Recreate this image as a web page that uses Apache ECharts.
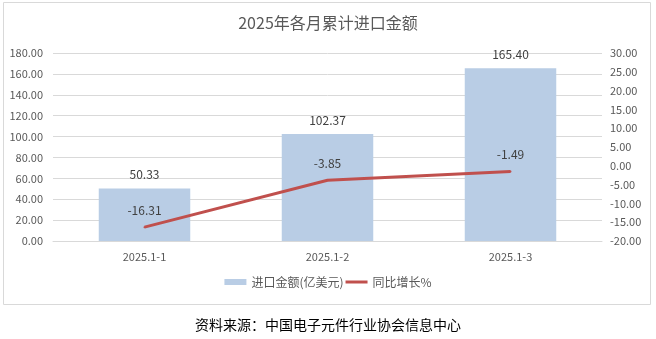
<!DOCTYPE html>
<html><head><meta charset="utf-8">
<script src="https://cdn.jsdelivr.net/npm/echarts@6/dist/echarts.min.js"></script>
<style>html,body{margin:0;padding:0;background:#fff}#c{width:656px;height:339px}</style>
</head><body><div id="c"></div>
<script>
const categories = ['2025.1-1', '2025.1-2', '2025.1-3'];
const importValues = [50.33, 102.37, 165.40];
const yoyGrowth = [-16.31, -3.85, -1.49];
const seriesNames = ['进口金额(亿美元)', '同比增长%'];
const titleText = '2025年各月累计进口金额';
const sourceText = '资料来源：中国电子元件行业协会信息中心';

const font = '"Noto Sans CJK SC", "Noto Sans", sans-serif';
const chart = echarts.init(document.getElementById('c'));
chart.setOption({
  animation: false,
  textStyle: { fontFamily: font },
  title: {
    text: titleText, left: 'center', top: 10,
    textStyle: { fontSize: 16, fontWeight: 'normal', color: '#595959', fontFamily: font }
  },
  graphic: [
    { type: 'rect', shape: { x: 3.5, y: 2.5, width: 647, height: 302 }, style: { fill: 'none', stroke: '#d9d9d9', lineWidth: 1 }, z: -1 },
    { type: 'text', left: 'center', top: 318, style: { text: sourceText, fontSize: 14, fill: '#000', fontFamily: font } }
  ],
  legend: {
    data: [{ name: seriesNames[0], icon: 'rect' }, { name: seriesNames[1], icon: 'path://M0,0 L22,0 L22,3 L0,3 Z' }],
    bottom: 46, left: 'center', itemGap: 2, itemWidth: 22, itemHeight: 6,
    textStyle: { fontSize: 12, color: '#595959' }
  },
  grid: { left: 53, right: 54, top: 53, bottom: 98 },
  xAxis: {
    type: 'category', data: categories,
    axisLine: { lineStyle: { color: '#d9d9d9' } }, axisTick: { show: false },
    axisLabel: { color: '#595959', fontSize: 11, margin: 10 }
  },
  yAxis: [
    { type: 'value', min: 0, max: 180, interval: 20,
      axisLine: { show: false }, axisTick: { show: false },
      axisLabel: { color: '#595959', fontSize: 11, margin: 10, formatter: v => v.toFixed(2) },
      splitLine: { lineStyle: { color: '#d9d9d9' } } },
    { type: 'value', min: -20, max: 30, interval: 5,
      axisLine: { show: false }, axisTick: { show: false },
      axisLabel: { color: '#595959', fontSize: 11, margin: 8, formatter: v => v.toFixed(2) },
      splitLine: { show: false } }
  ],
  series: [
    { name: seriesNames[0], type: 'bar', data: importValues, barWidth: '50%',
      itemStyle: { color: '#B9CDE5' },
      label: { show: true, position: 'top', distance: 8, color: '#404040', fontSize: 12, formatter: p => p.value.toFixed(2) } },
    { name: seriesNames[1], type: 'line', yAxisIndex: 1, data: yoyGrowth,
      symbol: 'circle', symbolSize: 2, showSymbol: true,
      lineStyle: { color: '#C0504D', width: 3 }, itemStyle: { color: '#C0504D' },
      label: { show: true, position: 'top', distance: 10, color: '#404040', fontSize: 12, formatter: p => p.value.toFixed(2) } }
  ]
});
</script></body></html>
